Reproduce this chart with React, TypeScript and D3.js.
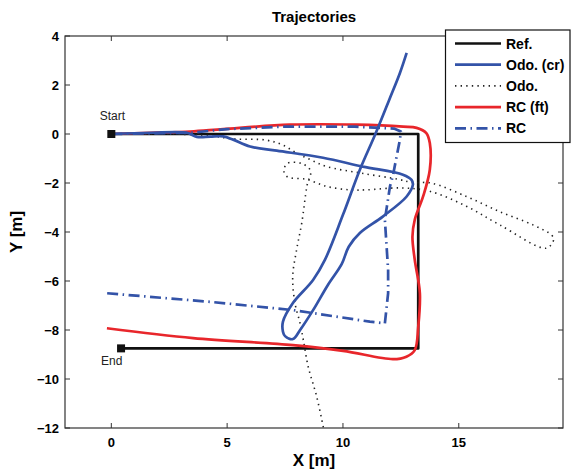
import * as d3 from "d3";

const W = 573;
const H = 473;
const left = 65;
const right = 563;
const top = 36;
const bottom = 428;

const xTicks = [0, 5, 10, 15];
const yTicks = [4, 2, 0, -2, -4, -6, -8, -10, -12];

// reference path (square)
const refPath: [number, number][] = [
  [0, 0], [13.25, 0], [13.25, -8.75], [0.42, -8.75],
];

// odometry corrected (blue solid)
const odoCr: [number, number][] = [
  [0, 0], [1.7, 0.05], [3.26, 0.05], [3.69, -0.12], [4.27, -0.11], [4.83, -0.1],
  [5.26, -0.23], [5.99, -0.51], [7.14, -0.68], [9.14, -0.97], [10.86, -1.33],
  [12.59, -1.66], [12.96, -1.87], [13.02, -2.07], [12.75, -2.55], [11.72, -3.37],
  [10.73, -4.04], [10.25, -4.6], [9.95, -5.3], [9.35, -6.16], [8.71, -7.19],
  [8.15, -8.0], [7.84, -8.37], [7.5, -8.25], [7.41, -8.07], [7.41, -7.66],
  [7.84, -6.9], [8.71, -5.96], [9.22, -5.14], [10.0, -3.3], [10.73, -1.46],
  [11.4, 0], [12.0, 1.4], [12.46, 2.49], [12.75, 3.31],
];

// raw odometry (dotted)
const odo: [number, number][] = [
  [0, 0], [2, 0], [4, -0.05], [5.3, -0.2], [6.7, -0.25], [7.4, -0.45], [8.0, -0.78],
  [8.6, -1.05], [9.3, -1.33], [10.8, -1.6], [12.4, -1.85], [13.0, -1.98], [13.8, -2.0],
  [15.33, -2.55], [16.77, -3.17], [18.2, -3.71], [19.0, -4.12], [19.1, -4.3],
  [18.78, -4.66], [16.77, -3.71], [15.33, -2.95], [13.75, -2.34], [12.5, -2.2],
  [11.0, -2.28], [10.3, -2.28], [9.3, -2.14], [8.43, -1.85], [7.6, -1.75],
  [7.45, -1.5], [7.6, -1.2], [8.2, -1.2], [8.6, -1.5], [8.45, -2.1], [8.22, -3.64],
  [8.0, -4.72], [7.83, -5.82], [7.93, -6.91], [8.15, -7.73], [8.29, -8.41],
  [8.5, -9.5], [8.87, -10.73], [9.2, -12.2],
];

// RC filtered (red)
const rcFt: [number, number][] = [
  [0, 0], [1.7, 0.05], [3.4, 0.1], [4.83, 0.2], [7.7, 0.38], [10.6, 0.38],
  [12.6, 0.3], [13.18, 0.25], [13.6, 0.04], [13.75, -0.37], [13.75, -1.46],
  [13.46, -2.55], [13.1, -3.5], [13.0, -4.19], [13.1, -5.14], [13.32, -6.49],
  [13.25, -7.87], [13.1, -8.82], [12.74, -9.09], [12.16, -9.19], [10, -8.85],
  [7.84, -8.62], [3.53, -8.33], [-0.19, -7.93],
];

// RC (blue dash-dot)
const rc: [number, number][] = [
  [0, 0], [3.4, 0.05], [5, 0.2], [7.5, 0.3], [10.5, 0.3], [12.2, 0.22], [12.5, 0.1],
  [12.46, -0.23], [12.15, -1.73], [12.03, -2.14], [11.81, -3.5], [11.95, -5.55],
  [11.95, -6.5], [11.81, -7.73], [11.16, -7.66], [7.86, -7.19], [4.27, -6.85],
  [-0.19, -6.5],
];

const BLUE = "#3353a8";
const RED = "#e8262b";

const series = [
  { name: "Ref.", data: refPath, color: "#111", width: 2.7, dash: "none", curve: d3.curveLinear },
  { name: "Odo. (cr)", data: odoCr, color: BLUE, width: 2.7, dash: "none", curve: d3.curveCatmullRom },
  { name: "Odo.", data: odo, color: "#222", width: 1.6, dash: "1.4,4.2", curve: d3.curveCatmullRom },
  { name: "RC (ft)", data: rcFt, color: RED, width: 2.7, dash: "none", curve: d3.curveCatmullRom },
  { name: "RC", data: rc, color: BLUE, width: 2.7, dash: "11,4.5,1.5,4.5", curve: d3.curveLinear },
];

const font = "'Liberation Sans', Arial, Helvetica, sans-serif";

export default function App() {
  const x = d3.scaleLinear([-2, 19.5], [left, right]);
  const y = d3.scaleLinear([-12, 4], [bottom, top]);
  const fmt = (v: number) => (v < 0 ? "\u2212" + Math.abs(v) : String(v));

  // draw order: Ref first, then others
  const drawOrder = [0, 2, 3, 4, 1];

  return (
    <svg width={W} height={H} style={{ position: "absolute", left: 0, top: 0 }} fontFamily={font}>
      <rect width={W} height={H} fill="#fff" />
      <defs>
        <clipPath id="plot">
          <rect x={left} y={top} width={right - left} height={bottom - top} />
        </clipPath>
      </defs>
      <text x={(left + right) / 2} y={22} textAnchor="middle" fontWeight="bold" fontSize={15}>
        Trajectories
      </text>

      <g clipPath="url(#plot)">
        {drawOrder.map((i) => {
          const s = series[i];
          const line = d3
            .line<[number, number]>()
            .x((d) => x(d[0]))
            .y((d) => y(d[1]))
            .curve(s.curve);
          return (
            <path
              key={s.name}
              d={line(s.data) || ""}
              fill="none"
              stroke={s.color}
              strokeWidth={s.width}
              strokeDasharray={s.dash}
              strokeLinejoin="round"
            />
          );
        })}
      </g>

      {/* start / end markers */}
      <rect x={x(0) - 4} y={y(0) - 4} width={8} height={8} fill="#111" />
      <text x={x(0) + 1} y={y(0) - 14} textAnchor="middle" fontSize={12} fill="#222">Start</text>
      <rect x={x(0.42) - 4} y={y(-8.75) - 4} width={8} height={8} fill="#111" />
      <text x={x(0.02)} y={y(-8.75) + 17} textAnchor="middle" fontSize={12} fill="#222">End</text>

      {/* frame */}
      <rect x={left} y={top} width={right - left} height={bottom - top} fill="none" stroke="#333" strokeWidth={1.2} />
      {xTicks.map((t) => (
        <g key={"x" + t}>
          <line x1={x(t)} x2={x(t)} y1={bottom} y2={bottom - 5} stroke="#333" />
          <line x1={x(t)} x2={x(t)} y1={top} y2={top + 5} stroke="#333" />
          <text x={x(t)} y={bottom + 19} textAnchor="middle" fontWeight="bold" fontSize={13}>
            {fmt(t)}
          </text>
        </g>
      ))}
      {yTicks.map((t) => (
        <g key={"y" + t}>
          <line x1={left} x2={left + 5} y1={y(t)} y2={y(t)} stroke="#333" />
          <line x1={right} x2={right - 5} y1={y(t)} y2={y(t)} stroke="#333" />
          <text x={left - 6} y={y(t) + 5} textAnchor="end" fontWeight="bold" fontSize={13}>
            {fmt(t)}
          </text>
        </g>
      ))}
      <text x={(left + right) / 2} y={466} textAnchor="middle" fontWeight="bold" fontSize={17}>
        X [m]
      </text>
      <text
        transform={`translate(22,${(top + bottom) / 2}) rotate(-90)`}
        textAnchor="middle"
        fontWeight="bold"
        fontSize={17}
      >
        Y [m]
      </text>

      {/* legend */}
      <g>
        <rect x={445.5} y={30} width={124.5} height={112.5} fill="#fff" stroke="#111" strokeWidth={1.2} />
        {series.map((s, i) => {
          const ly = 43.5 + i * 21.2;
          return (
            <g key={"lg" + s.name}>
              <line
                x1={455}
                x2={501}
                y1={ly}
                y2={ly}
                stroke={s.color}
                strokeWidth={s.width}
                strokeDasharray={s.dash}
              />
              <text x={506} y={ly + 5} fontWeight="bold" fontSize={14}>
                {s.name}
              </text>
            </g>
          );
        })}
      </g>
    </svg>
  );
}
